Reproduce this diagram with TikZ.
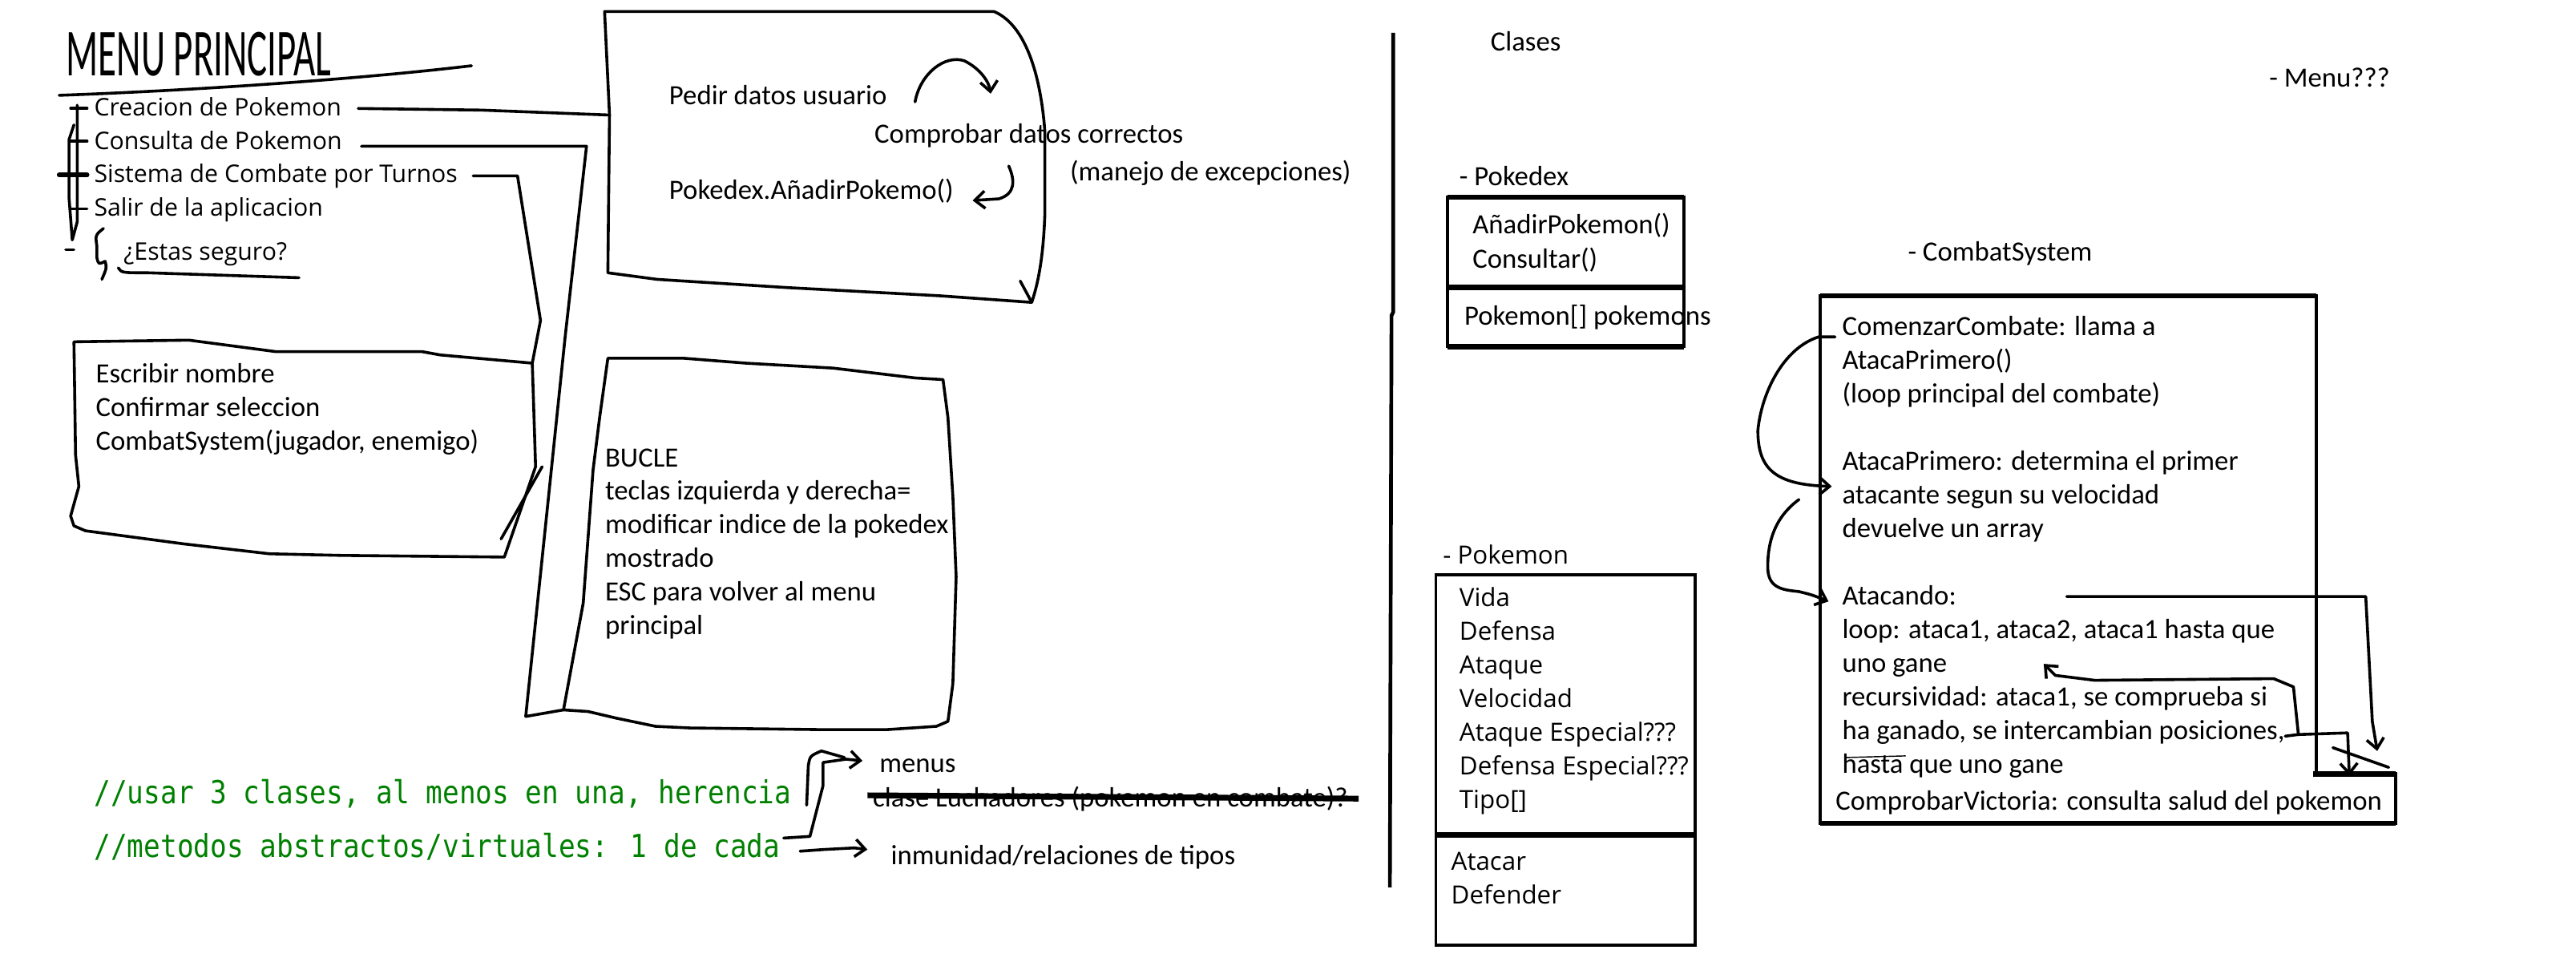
\documentclass[tikz,border=0pt]{standalone}
\usepackage{graphicx}
\usepackage{fontspec}
\setmainfont{Carlito}
\newfontfamily\segoe{Open Sans}
\newfontfamily\consola{DejaVu Sans Mono}
\usetikzlibrary{arrows.meta}
\definecolor{codegreen}{RGB}{0,128,0}

\tikzset{
  sketch/.style={line width=1pt, line cap=round, line join=round},
  calibri/.style={font=\fontsize{9.65}{11.7}\selectfont, inner sep=0pt, anchor=base west},
  segoetxt/.style={font=\segoe\fontsize{8.4}{11}\selectfont, inner sep=0pt, anchor=base west},
  segoebig/.style={font=\segoe\fontsize{8.7}{11}\selectfont, inner sep=0pt, anchor=base west},
  comment/.style={font=\consola\fontsize{9.55}{12}\selectfont, text=codegreen, inner sep=0pt, anchor=base west},
  umlside/.style={line width=1.1pt},
  umlbar/.style={line width=1.8pt},
  barb/.style={-{Straight Barb[length=3.5pt,width=6pt]}},
}

\begin{document}
\begin{tikzpicture}[x=0.02cm, y=-0.02cm]
\useasboundingbox (0,0) rectangle (1568,585);

    % Titulo
    \node (titulo) at (121,33) {\scalebox{0.98}[1.75]{\fontsize{13.3}{14}\selectfont MENU PRINCIPAL}};
    \draw[sketch] (36,58) .. controls (120,55) and (220,48) .. (287,40);

    % Opciones del menu
    \foreach \t [count=\i] in {Creacion de Pokemon, Consulta de Pokemon, Sistema de Combate por Turnos, Salir de la aplicacion}
        \node[segoetxt] (menu\i) at (57,{70.5+(\i-1)*20.3}) {\t};
    \node[segoetxt] (seguro) at (75,158.5) {¿Estas seguro?};

    % Corchete
    \draw[sketch] (47,64) -- (47,135) -- (44,146) -- (42,120) -- (42,85) -- (45,76);
    \foreach \y in {66,86,127} {
        \draw[sketch] (43,\y) -- (53,\y);
    }
    \draw[sketch, line width=1.6pt] (36,106.5) -- (53,106.5);
    \draw[sketch] (40,152) -- (45,152);
    \draw[sketch] (63,139) .. controls (58,143) .. (59,150) -- (59,157) .. controls (60,161) .. (64,159) .. controls (65,163) .. (62,170);
    \draw[sketch] (72,163) .. controls (74,166) .. (90,166) -- (182,169);

    % Puntos de union
    \coordinate (creacionFin) at (218,66);
    \coordinate (consultaFin) at (220,89);
    \coordinate (sistemaFin) at (288,107);
    \coordinate (pedirL) at (371,70);
    \coordinate (escribirNE) at (324,221);
    \coordinate (bucleSW) at (343,432);

    % Caja crear pokemon
    \draw[sketch] (368,7) -- (605,7) .. controls (622,14) and (633,40) .. (636,80) -- (636,130)
        .. controls (635,160) and (631,175) .. (628,184) -- (572,180) -- (479,175) -- (400,170)
        -- (370,166) -- (pedirL) -- cycle;
    \draw[sketch] (621,171) -- (628,184);
    \node[calibri] (pedir) at (407,63.5) {Pedir datos usuario};
    \node[calibri] (comprobar) at (532,87) {Comprobar datos correctos};
    \node[calibri] (manejo) at (651,110) {(manejo de excepciones)};
    \node[calibri] (anadir) at (407,121) {Pokedex.AñadirPokemo()};
    \draw[sketch, barb] (557,62) .. controls (560,45) and (575,33) .. (587,37) .. controls (597,42) and (602,50) .. (603,57);
    \draw[sketch, barb] (614,101) .. controls (618,110) and (618,118) .. (608,121) -- (592,122);

    % Caja combate
    \draw[sketch] (escribirNE) -- (326,284) -- (307,339) -- (208,338) -- (164,337) -- (112,331) -- (52,323)
        -- (45,320) -- (43,314) -- (48,296) -- (46,277) -- (45,208) -- (115,207) -- (168,214)
        -- (257,214) -- (268,216) -- cycle;
    \draw[sketch] (330,284) -- (305,328);
    \foreach \t [count=\i] in {Escribir nombre, Confirmar seleccion, {CombatSystem(jugador, enemigo)}}
        \node[calibri] (escribir\i) at (58,{233+(\i-1)*20.4}) {\t};

    % Caja bucle pokedex
    \draw[sketch] (370,218) -- (416,218) -- (454,221) -- (507,224) -- (557,230) -- (574,231) -- (577,254)
        -- (580,302) -- (582,351) -- (580,416) -- (577,439) -- (570,442) -- (540,444) -- (499,444)
        -- (420,443) -- (399,442) -- (375,437) -- (358,433) -- (bucleSW) -- (355,367) -- (361,286)
        -- (365,254) -- cycle;
    \foreach \t [count=\i] in {BUCLE, teclas izquierda y derecha=, modificar indice de la pokedex, mostrado, ESC para volver al menu, principal}
        \node[calibri] (bucle\i) at (368,{284+(\i-1)*20.4}) {\t};

    % Lineas del menu
    \draw[sketch] (creacionFin) -- (293,67) -- (pedirL);
    \draw[sketch] (consultaFin) -- (357,89) -- (344,205) -- (320,436) -- (bucleSW);
    \draw[sketch] (sistemaFin) -- (315,107) -- (329,195) -- (escribirNE);

    % Comentarios
    \node[comment] (usar) at (57,489) {\scalebox{1}[1.15]{//usar 3 clases, al menos en una, herencia}};
    \node[comment] (metodos) at (57,522) {\scalebox{1}[1.15]{//metodos abstractos/virtuales: 1 de cada}};
    \node[calibri] (menus) at (535,470) {menus};
    \node[calibri] (luchadores) at (531,491) {clase Luchadores (pokemon en combate)?};
    \node[calibri] (inmunidad) at (542,526) {inmunidad/relaciones de tipos};
    \draw[line width=2pt] (528,484) -- (827,486);
    \draw[sketch] (491,490) -- (492,466) .. controls (493,460) .. (500,457) -- (514,461);
    \draw[sketch, barb] (477,510) -- (493,509) -- (501,478) -- (501,464) -- (515,462) -- (525,463);
    \draw[sketch, barb] (487,518) -- (501,517) -- (520,516) -- (528,517);

    % Separador
    \draw[line width=1.3pt] (848,20) -- (848,190) -- (847,192) -- (846,540);

    % Clases
    \node[calibri] (clases) at (907,31) {Clases};
    \node[calibri] (menuClase) at (1381,53) {- Menu???};

    % Pokedex
    \node[calibri] (pokedexLbl) at (888,113) {- Pokedex};
    \draw[umlside] (881,120) rectangle (1025,211);
    \draw[umlbar] (881,120) -- (1025,120);
    \draw[umlbar] (881,175) -- (1025,175);
    \draw[umlbar] (881,211) -- (1025,211);
    \node[calibri] (pdx1) at (896,142) {AñadirPokemon()};
    \node[calibri] (pdx2) at (896,163) {Consultar()};
    \node[calibri] (pdx3) at (891,198) {Pokemon[] pokemons};

    % Pokemon
    \node[segoebig] (pokemonLbl) at (878,343) {- Pokemon};
    \draw[umlside] (874,350) rectangle (1032,575);
    \draw[umlbar] (874,508) -- (1032,508);
    \foreach \t [count=\i] in {Vida, Defensa, Ataque, Velocidad, Ataque Especial???, Defensa Especial???, Tipo[]}
        \node[segoebig] (pk\i) at (888,{369+(\i-1)*20.5}) {\t};
    \node[segoebig] (atacar) at (883,529.5) {Atacar};
    \node[segoebig] (defender) at (883,550) {Defender};

    % CombatSystem
    \node[calibri] (combatLbl) at (1161,159) {- CombatSystem};
    \draw[umlside] (1108,180) -- (1410,180) -- (1410,471) -- (1458,471) -- (1458,501) -- (1108,501) -- cycle;
    \draw[umlbar] (1108,180) -- (1410,180);
    \draw[umlbar] (1408,471) -- (1458,471);
    \draw[umlbar] (1108,501) -- (1458,501);
    \foreach \y/\t [count=\i] in {204/{ComenzarCombate: llama a}, 224.5/{AtacaPrimero()}, 245/{(loop principal del combate)},
        286/{AtacaPrimero: determina el primer}, 306.5/{atacante segun su velocidad}, 327/{devuelve un array},
        368/{Atacando:}, 388.5/{loop: ataca1, ataca2, ataca1 hasta que}, 409/{uno gane},
        429.5/{recursividad: ataca1, se comprueba si}, 450/{ha ganado, se intercambian posiciones,}, 470.5/{hasta que uno gane}}
        \node[calibri] (cs\i) at (1121,\y) {\t};
    \node[calibri] (victoria) at (1117,493) {ComprobarVictoria: consulta salud del pokemon};
    \draw[thin] (1123,461) -- (1160,460);

    % Flechas del combate
    \coordinate (comenzarL) at (1117,205);
    \coordinate (atacaL) at (1115,296);
    \coordinate (atacandoL) at (1113,366);
    \coordinate (atacandoFin) at (1258,363);
    \coordinate (posFin) at (1391,448);
    \draw[sketch, barb] (comenzarL) -- (1107,205) .. controls (1085,212) and (1072,240) .. (1070,262)
        .. controls (1070,285) and (1080,295) .. (atacaL);
    \draw[sketch, barb] (1095,304) .. controls (1080,315) and (1076,330) .. (1076,345)
        .. controls (1076,358) and (1085,359) .. (1095,360) .. controls (1103,362) .. (atacandoL);
    \draw[sketch, barb] (atacandoFin) -- (1440,363) -- (1444,439) -- (1447,457);
    \draw[sketch, barb] (posFin) -- (1399,447) -- (1396,418) -- (1384,413) -- (1275,414) -- (1251,411) -- (1244,404);
    \draw[sketch, barb] (1399,447) -- (1429,446) -- (1430,472);
    \draw[sketch] (1420,455) -- (1454,467);

\end{tikzpicture}
\end{document}
